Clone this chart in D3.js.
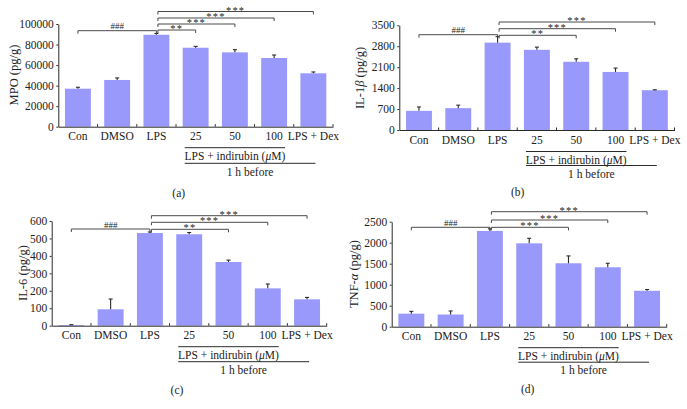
<!DOCTYPE html>
<html>
<head>
<meta charset="utf-8">
<script src="https://cdn.jsdelivr.net/npm/d3@7/dist/d3.min.js"></script>
<style>
  html, body { margin: 0; padding: 0; background: #fff; }
  svg { display: block; }
  text { font-family: "Liberation Serif", "Times New Roman", serif; fill: #222; }
</style>
</head>
<body>
<svg id="chart" width="687" height="409"></svg>
<script>
// ---------- data ----------
const categories = ["Con", "DMSO", "LPS", "25", "50", "100", "LPS + Dex"];

const mpoValues = [37000, 45500, 89500, 76900, 72400, 66900, 52000];
const mpoErrors = [1400, 2000, 1300, 1300, 2600, 2900, 1300];
const mpoTicks  = [0, 20000, 40000, 60000, 80000, 100000];

const il1bValues = [640, 730, 2920, 2680, 2280, 1940, 1330];
const il1bErrors = [130, 100, 200, 90, 100, 130, 15];
const il1bTicks  = [0, 700, 1400, 2100, 2800, 3500];

const il6Values = [4, 94, 531, 524, 365, 214, 151];
const il6Errors = [2, 59, 6, 10, 11, 25, 11];
const il6Ticks  = [0, 100, 200, 300, 400, 500, 600];

const tnfValues = [310, 290, 2280, 1985, 1510, 1415, 855];
const tnfErrors = [55, 85, 50, 120, 175, 95, 30];
const tnfTicks  = [0, 500, 1000, 1500, 2000, 2500];

// significance comparisons [from, to, label]
const mpoSig  = [["Con","LPS","###"], ["LPS","25","**"], ["LPS","50","***"], ["LPS","100","***"], ["LPS","LPS + Dex","***"]];
const il1bSig = [["Con","LPS","###"], ["LPS","50","**"], ["LPS","100","***"], ["LPS","LPS + Dex","***"]];
const il6Sig  = [["Con","LPS","###"], ["LPS","50","**"], ["LPS","100","***"], ["LPS","LPS + Dex","***"]];
const tnfSig  = [["Con","LPS","###"], ["LPS","50","***"], ["LPS","100","***"], ["LPS","LPS + Dex","***"]];

const groupLabel1 = "LPS + indirubin";
const groupLabel2 = "1 h before";

// ---------- layout ----------
const panels = [
  { letter: "(a)", values: mpoValues, errors: mpoErrors, ticks: mpoTicks, sig: mpoSig,
    title: [["MPO (pg/g)", false]],
    left: 58.3, right: 333, yZero: 126.7, yTop: 24,
    sigY: [30.7, 30, 24, 18, 11.5],
    grp: [21, 29.3, 36.6, 45.3], titlePos: [13.5, 75], letterPos: [178.7, 192.7] },
  { letter: "(b)", values: il1bValues, errors: il1bErrors, ticks: il1bTicks, sig: il1bSig,
    title: [["IL-1", false], ["β", true], [" (pg/g)", false]],
    left: 399.3, right: 674.5, yZero: 130, yTop: 25.3,
    sigY: [34.7, 35.3, 28.7, 22],
    grp: [21.5, 29.5, 35.5, 43.5], titlePos: [360, 78], letterPos: [517.7, 192.3] },
  { letter: "(c)", values: il6Values, errors: il6Errors, ticks: il6Ticks, sig: il6Sig,
    title: [["IL-6 (pg/g)", false]],
    left: 51.7, right: 326.7, yZero: 325.7, yTop: 221,
    sigY: [229, 229.3, 222.3, 215.7],
    grp: [21, 29.3, 36, 44.3], titlePos: [22.5, 273], letterPos: [177, 390] },
  { letter: "(d)", values: tnfValues, errors: tnfErrors, ticks: tnfTicks, sig: tnfSig,
    title: [["TNF-", false], ["α", true], [" (pg/g)", false]],
    left: 391.7, right: 666.7, yZero: 326.7, yTop: 221.7,
    sigY: [227.3, 227.3, 220, 211.7],
    grp: [21, 29.3, 35.5, 43], titlePos: [354, 274], letterPos: [527.7, 389] }
];

const svg = d3.select("#chart");
const barColor = "#9999fb";
const ink = "#2a2a2a";
const FS = 11.5;

panels.forEach(p => {
  const g = svg.append("g");
  const x = d3.scaleBand().domain(categories).range([p.left, p.right])
    .paddingInner(0.34).paddingOuter(0.17);
  const y = d3.scaleLinear().domain([0, d3.max(p.ticks)]).range([p.yZero, p.yTop]);
  const bw = x.bandwidth();
  const step = x.step();

  // bars
  g.selectAll("rect.bar").data(categories).join("rect")
    .attr("x", d => x(d)).attr("width", bw)
    .attr("y", (d, i) => y(p.values[i]))
    .attr("height", (d, i) => y(0) - y(p.values[i]))
    .attr("fill", barColor);

  // error bars
  const eb = g.append("g").attr("stroke", ink).attr("stroke-width", 1.1);
  categories.forEach((c, i) => {
    const cx = x(c) + bw / 2;
    const y1 = y(p.values[i]), y2 = y(p.values[i] + p.errors[i]);
    eb.append("line").attr("x1", cx).attr("x2", cx).attr("y1", y1).attr("y2", y2);
    eb.append("line").attr("x1", cx - 2).attr("x2", cx + 2).attr("y1", y2).attr("y2", y2);
  });

  // y axis
  const ya = g.append("g").attr("transform", `translate(${p.left},0)`)
    .call(d3.axisLeft(y).tickValues(p.ticks).tickSize(2).tickSizeOuter(0).tickPadding(2.5).tickFormat(d3.format("d")));
  ya.selectAll("path, line").attr("stroke", ink);
  ya.selectAll("text").attr("font-size", FS).attr("font-family", "Liberation Serif").attr("fill", "#222");

  // x axis
  const xa = g.append("g").attr("transform", `translate(0,${p.yZero})`)
    .call(d3.axisBottom(x).tickSize(0).tickSizeOuter(0).tickPadding(5.5));
  xa.select("path").attr("stroke", ink);
  xa.selectAll("text").attr("font-size", FS).attr("font-family", "Liberation Serif").attr("fill", "#222");
  // boundary ticks
  categories.forEach(c => {
    const bx = x(c) + bw + step * 0.17;
    g.append("line").attr("x1", bx).attr("x2", bx).attr("y1", p.yZero).attr("y2", p.yZero - 2.5)
      .attr("stroke", ink);
  });

  // y title
  const tt = g.append("text")
    .attr("transform", `translate(${p.titlePos[0]},${p.titlePos[1]}) rotate(-90)`)
    .attr("text-anchor", "middle").attr("dy", "0.35em").attr("font-size", 12.5);
  p.title.forEach(([s, it]) => tt.append("tspan").text(s).attr("font-style", it ? "italic" : "normal"));

  // significance brackets
  p.sig.forEach(([a, b, lab], k) => {
    const xa1 = x(a) + bw / 2 + (a === "LPS" ? 1.5 : 0);
    const xb1 = x(b) + bw / 2;
    const ly = p.sigY[k];
    g.append("path")
      .attr("d", `M${xa1},${ly + 3}V${ly}H${xb1}V${ly + 3}`)
      .attr("fill", "none").attr("stroke", "#4a4a4a").attr("stroke-width", 1);
    g.append("text").attr("x", (xa1 + xb1) / 2).attr("y", lab === "###" ? ly - 1.5 : ly + 2)
      .attr("text-anchor", "middle").attr("font-size", lab === "###" ? 9 : 10.5)
      .attr("letter-spacing", lab === "###" ? 0 : 1.2)
      .attr("fill", "#555").text(lab);
  });

  // group annotation
  const gx1 = x("25") + 2;
  const gx2 = x("100") + bw - 2;
  const gx3 = x("LPS + Dex") + bw / 2 + 2;
  g.append("line").attr("x1", gx1).attr("x2", gx2)
    .attr("y1", p.yZero + p.grp[0]).attr("y2", p.yZero + p.grp[0]).attr("stroke", ink);
  const t1 = g.append("text").attr("x", (gx1 + gx2) / 2).attr("y", p.yZero + p.grp[1] + 4)
    .attr("text-anchor", "middle").attr("font-size", FS);
  t1.append("tspan").text(groupLabel1 + " (");
  t1.append("tspan").text("μ").attr("font-style", "italic");
  t1.append("tspan").text("M)");
  g.append("line").attr("x1", gx1).attr("x2", gx3)
    .attr("y1", p.yZero + p.grp[2]).attr("y2", p.yZero + p.grp[2]).attr("stroke", ink);
  g.append("text").attr("x", (gx1 + gx3) / 2).attr("y", p.yZero + p.grp[3] + 4)
    .attr("text-anchor", "middle").attr("font-size", FS).text(groupLabel2);

  // panel letter
  g.append("text").attr("x", p.letterPos[0]).attr("y", p.letterPos[1] + 4)
    .attr("text-anchor", "middle").attr("font-size", FS).text(p.letter);
});
</script>
</body>
</html>
